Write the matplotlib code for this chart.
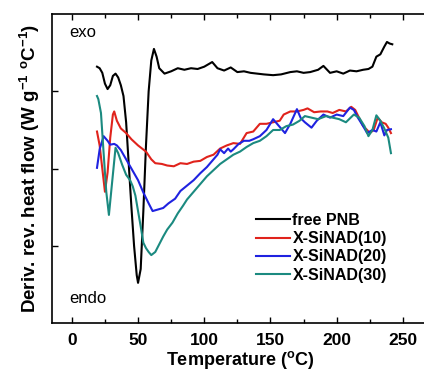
import matplotlib.pyplot as plt
import numpy as np

plt.rcParams['font.family'] = ['Liberation Sans', 'DejaVu Sans']

# temperatures (°C) and curves (arbitrary units, 0 = bottom of frame)
t_pnb = [19, 21, 23, 25, 27, 29, 31, 33, 35, 37, 39, 41, 43, 45, 47, 49, 50, 52, 54, 56, 58, 60, 62, 64,
         66, 70, 75, 80, 85, 90, 95, 100, 106, 110, 115, 120, 125, 130, 135, 140, 145, 152, 158, 165,
         170, 175, 180, 186, 190, 195, 200, 205, 210, 215, 220, 224, 227, 230, 233, 236, 238, 240, 242]
y_pnb = [3.32, 3.30, 3.24, 3.10, 3.03, 3.08, 3.20, 3.23, 3.18, 3.08, 2.94, 2.60, 2.05, 1.50, 1.00, 0.62, 0.52,
         0.70, 1.45, 2.30, 3.00, 3.40, 3.55, 3.45, 3.30, 3.23, 3.26, 3.30, 3.28, 3.30, 3.29, 3.32, 3.38,
         3.30, 3.27, 3.31, 3.25, 3.26, 3.24, 3.23, 3.22, 3.21, 3.22, 3.25, 3.26, 3.24, 3.25, 3.28, 3.33,
         3.24, 3.26, 3.23, 3.27, 3.26, 3.28, 3.29, 3.32, 3.45, 3.48, 3.58, 3.64, 3.62, 3.61]

t_10 = [19, 21, 23, 25, 27, 29, 31, 32, 34, 37, 41, 45, 50, 56, 60, 63, 68, 72, 77, 82, 87, 92, 97, 102,
        107, 112, 117, 122, 127, 132, 137, 142, 147, 152, 157, 160, 165, 170, 175, 178, 183, 188, 193,
        197, 202, 207, 211, 214, 218, 220, 223, 225, 228, 231, 234, 237, 239, 241]
y_10 = [2.48, 2.30, 2.00, 1.70, 1.95, 2.40, 2.70, 2.74, 2.62, 2.52, 2.46, 2.38, 2.30, 2.22, 2.12, 2.07,
        2.06, 2.04, 2.03, 2.07, 2.06, 2.09, 2.10, 2.15, 2.18, 2.26, 2.30, 2.33, 2.32, 2.46, 2.48, 2.58,
        2.58, 2.60, 2.62, 2.70, 2.74, 2.74, 2.76, 2.78, 2.73, 2.74, 2.74, 2.72, 2.76, 2.74, 2.80, 2.76,
        2.62, 2.55, 2.50, 2.46, 2.50, 2.66, 2.60, 2.58, 2.53, 2.46]

t_20 = [19, 21, 24, 27, 29, 32, 34, 37, 41, 45, 50, 54, 58, 61, 65, 69, 73, 78, 82, 87, 92, 97, 102, 107,
        110, 112, 115, 118, 120, 122, 126, 130, 134, 137, 142, 147, 152, 155, 158, 161, 165, 170, 173,
        176, 181, 185, 190, 195, 200, 205, 210, 213, 216, 220, 223, 227, 230, 233, 236, 238, 241]
y_20 = [2.01, 2.25, 2.42, 2.36, 2.31, 2.32, 2.30, 2.24, 2.12, 2.00, 1.85, 1.69, 1.55, 1.45, 1.47, 1.49,
        1.55, 1.61, 1.71, 1.78, 1.85, 1.94, 2.02, 2.12, 2.18, 2.25, 2.20, 2.26, 2.22, 2.25, 2.32, 2.36,
        2.36, 2.38, 2.42, 2.50, 2.64, 2.58, 2.52, 2.46, 2.58, 2.77, 2.65, 2.60, 2.53, 2.62, 2.70, 2.66,
        2.70, 2.68, 2.79, 2.76, 2.66, 2.55, 2.46, 2.50, 2.48, 2.60, 2.43, 2.50, 2.51]

t_30 = [19, 20, 22, 24, 26, 28, 30, 33, 35, 38, 41, 44, 46, 48, 50, 52, 54, 56, 58, 60, 63, 66, 69, 72,
        76, 80, 84, 87, 92, 97, 102, 107, 112, 117, 122, 127, 132, 137, 142, 147, 152, 157, 162, 167,
        172, 176, 181, 186, 192, 197, 202, 207, 213, 217, 221, 224, 227, 230, 233, 236, 239, 241]
y_30 = [2.94, 2.90, 2.72, 2.20, 1.70, 1.40, 1.75, 2.27, 2.20, 2.05, 1.92, 1.85, 1.77, 1.65, 1.45, 1.25,
        1.04, 0.97, 0.92, 0.88, 0.92, 1.02, 1.12, 1.21, 1.30, 1.42, 1.52, 1.60, 1.70, 1.80, 1.90, 1.98,
        2.06, 2.12, 2.18, 2.22, 2.28, 2.33, 2.36, 2.42, 2.50, 2.50, 2.55, 2.57, 2.62, 2.68, 2.66, 2.64,
        2.68, 2.66, 2.64, 2.60, 2.70, 2.66, 2.55, 2.42, 2.50, 2.69, 2.62, 2.52, 2.40, 2.20]

labels = ['free PNB', 'X-SiNAD(10)', 'X-SiNAD(20)', 'X-SiNAD(30)']
colors = ['#000000', '#e0231c', '#1f22e0', '#1b8a80']

fig = plt.figure(figsize=(4.24, 3.73), dpi=100)
ax = fig.add_axes([0.1226, 0.134, 0.89, 0.828])

for t, y, lab, c in zip([t_pnb, t_10, t_20, t_30], [y_pnb, y_10, y_20, y_30], labels, colors):
    ax.plot(t, y, color=c, lw=1.5, label=lab)

ax.set_xlim(-15, 270)
ax.set_ylim(0, 4)
ax.set_xticks(np.arange(0, 251, 50))
ax.set_xticks(np.arange(25, 251, 50), minor=True)
ax.set_yticks([1, 2, 3])
ax.set_yticklabels([])
ax.tick_params(which='both', direction='in', top=True, width=1.0)
ax.tick_params(which='major', length=4)
ax.tick_params(which='minor', length=3)
ax.tick_params(axis='x', labelsize=12.5, pad=7)
for lbl in ax.get_xticklabels():
    lbl.set_fontweight('bold')
for s in ax.spines.values():
    s.set_linewidth(1.2)

ax.set_xlabel('Temperature ($^{\\mathregular{o}}$C)', fontsize=13, fontweight='bold', labelpad=1)
ax.set_ylabel('Deriv. rev. heat flow (W g$^{\\mathregular{-1}}$ $^{\\mathregular{o}}$C$^{\\mathregular{-1}}$)',
              fontsize=13.5, fontweight='bold', labelpad=4)

ax.text(0.045, 0.94, 'exo', transform=ax.transAxes, fontsize=12, va='center')
ax.text(0.045, 0.08, 'endo', transform=ax.transAxes, fontsize=12, va='center')

leg = ax.legend(loc='lower left', bbox_to_anchor=(0.525, 0.11), frameon=False, fontsize=11.5,
                handlelength=2.1, handletextpad=0.15, labelspacing=0.2, borderaxespad=0)
for txt in leg.get_texts():
    txt.set_fontweight('bold')

fig.savefig('out.png', dpi=100)
